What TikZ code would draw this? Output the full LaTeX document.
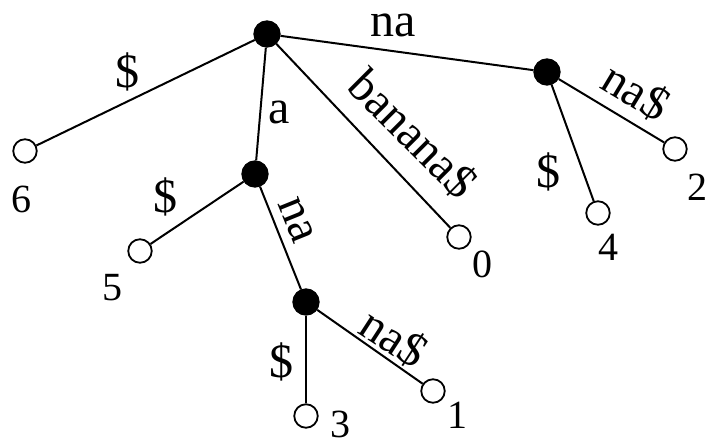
\documentclass[tikz,border=0pt]{standalone}
\usepackage{fontspec}
\setmainfont{Liberation Serif}
\begin{document}
\begin{tikzpicture}[x=1pt,y=-1pt,
  inode/.style={circle,fill=black,draw=black,line width=1.8pt,minimum size=25.5pt,inner sep=0pt},
  leaf/.style={circle,fill=white,draw=black,line width=1.8pt,minimum size=23.5pt,inner sep=0pt},
  edge/.style={line width=2pt},
  lbl/.style={font=\fontsize{48}{50}\selectfont,inner sep=0pt,anchor=center},
  num/.style={font=\fontsize{40}{42}\selectfont,inner sep=0pt,anchor=center}]
\useasboundingbox (0,0) rectangle (709,445);
% internal nodes
\node[inode] (r) at (267,34) {};
\node[inode] (R) at (547,72) {};
\node[inode] (A) at (255,174) {};
\node[inode] (N) at (306,302) {};
% leaves
\node[leaf] (l6) at (25,151) {};
\node[leaf] (l5) at (140,251) {};
\node[leaf] (l0) at (459,237) {};
\node[leaf] (l4) at (598,213) {};
\node[leaf] (l2) at (675,149) {};
\node[leaf] (l3) at (306,416) {};
\node[leaf] (l1) at (433,391) {};
% edges
\draw[edge] (r) -- (l6);
\draw[edge] (r) -- (R);
\draw[edge] (r) -- (A);
\draw[edge] (r) -- (l0);
\draw[edge] (R) -- (l4);
\draw[edge] (R) -- (l2);
\draw[edge] (A) -- (l5);
\draw[edge] (A) -- (N);
\draw[edge] (N) -- (l3);
\draw[edge] (N) -- (l1);
% edge labels
\node[lbl] (e6) at (127,72) {\$};
\node[lbl] (eR) at (393,25) {na};
\node[lbl] (eA) at (279,112) {a};
\node[lbl,rotate=-45] (e0) at (413,134) {banana\$};
\node[lbl,rotate=-31] (e2) at (636,92) {na\$};
\node[lbl] (e4) at (548,172) {\$};
\node[lbl] (e5) at (165,197) {\$};
\node[lbl,rotate=-68] (eN) at (296,220) {na};
\node[lbl,rotate=-33] (e1) at (394,338) {na\$};
\node[lbl] (e3) at (281,362) {\$};
% leaf numbers
\node[num] (n6) at (22,199) {6};
\node[num] (n5) at (112,288) {5};
\node[num] (n0) at (482,264) {0};
\node[num] (n4) at (608,247) {4};
\node[num] (n2) at (697,187) {2};
\node[num] (n3) at (340,424) {3};
\node[num] (n1) at (457,415) {1};
\end{tikzpicture}
\end{document}
